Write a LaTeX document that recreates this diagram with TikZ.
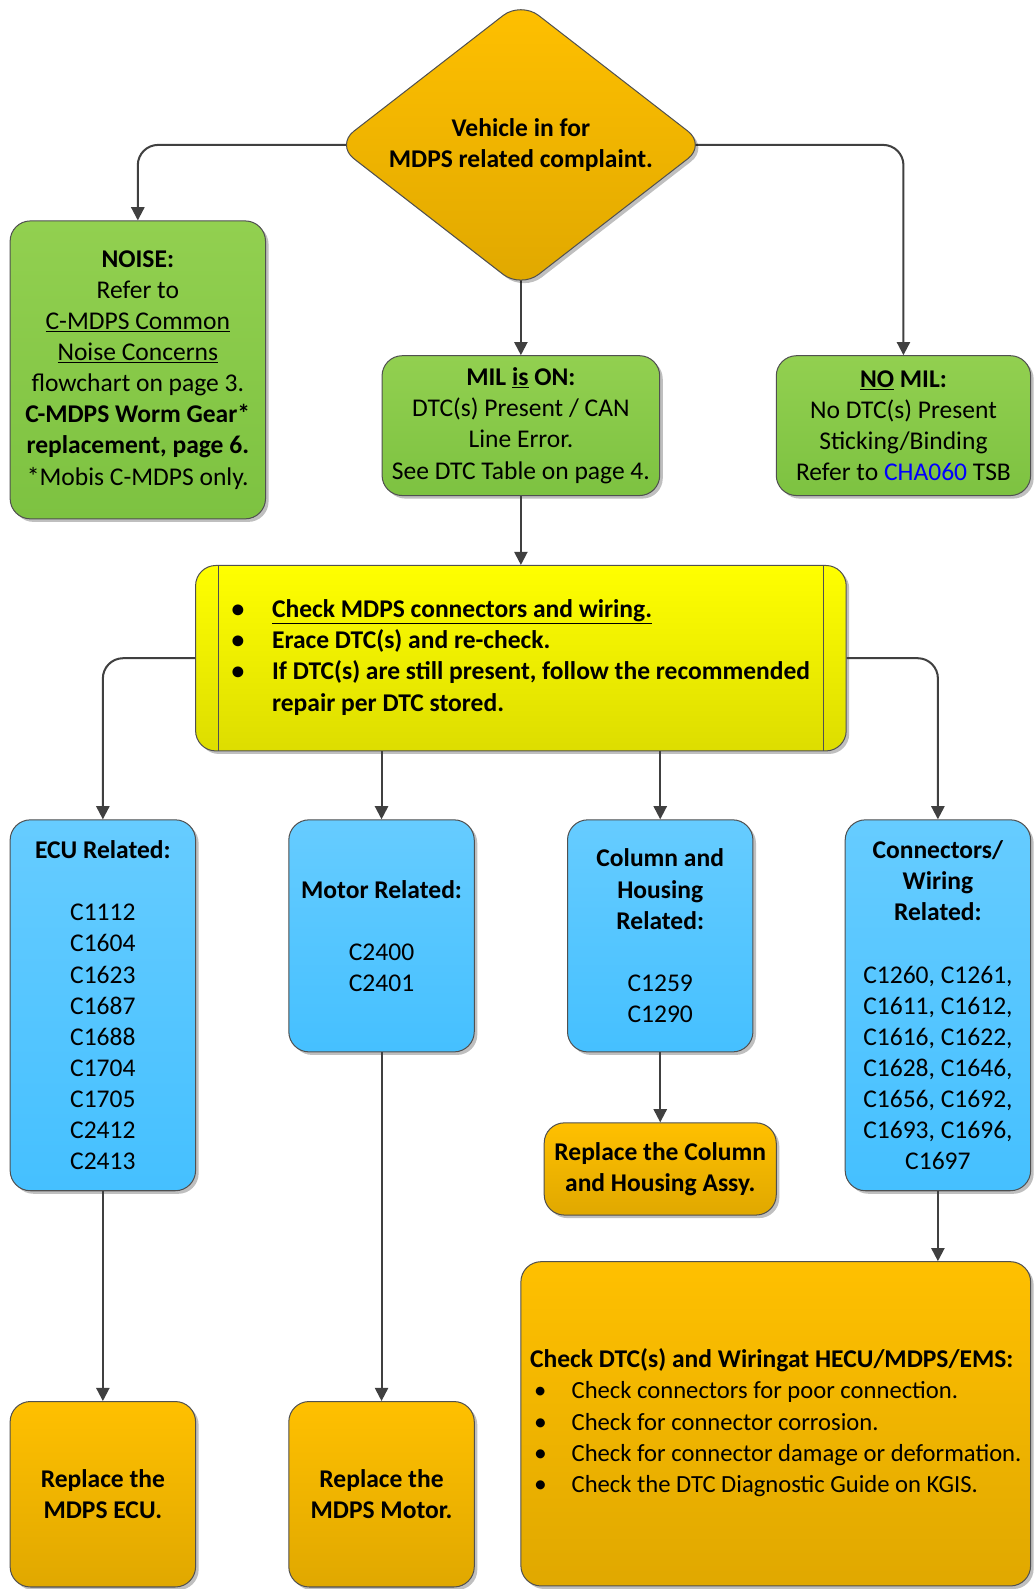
\documentclass[tikz,border=0pt]{standalone}
\usepackage{fontspec}
\setmainfont{Carlito}
\usepackage{xcolor}
\usepackage{tikz}
\usetikzlibrary{positioning,shapes.geometric,arrows.meta,shadows,backgrounds}

\definecolor{linegray}{HTML}{404040}
\definecolor{edgegray}{HTML}{505050}
\definecolor{orangetop}{HTML}{FFC000}
\definecolor{orangebot}{HTML}{E0A800}
\definecolor{greentop}{HTML}{92D050}
\definecolor{greenbot}{HTML}{7DC241}
\definecolor{bluetop}{HTML}{66CCFF}
\definecolor{bluebot}{HTML}{45C0FF}
\definecolor{yellowtop}{HTML}{FFFF00}
\definecolor{yellowbot}{HTML}{DDDD00}
\definecolor{linkblue}{HTML}{0000FF}

\begin{document}
\begin{tikzpicture}[%
    x=1pt, y=-1pt,
    ->,
    >={Triangle[width=13pt,length=13pt]},
    line width=2pt,
    draw=linegray,
    rounded corners=20pt,
    every node/.style={font=\fontsize{25.2}{30.7}\selectfont},
    link/.style={->, line width=2pt, draw=linegray, rounded corners=20pt},
    basebox/.style={%
      rectangle,
      rounded corners=20pt,
      draw=edgegray,
      line width=1pt,
      inner sep=0pt,
      align=center,
      drop shadow={shadow xshift=3pt,shadow yshift=-3pt,opacity=0.25,fill=black}
    },
    greenbox/.style={basebox, top color=greentop, bottom color=greenbot},
    bluebox/.style={basebox, top color=bluetop, bottom color=bluebot,
      minimum width=183pt},
    orangebox/.style={basebox, top color=orangetop, bottom color=orangebot},
    yellowbox/.style={basebox, top color=yellowtop, bottom color=yellowbot}
  ]
    \useasboundingbox (0,0) rectangle (1020,1568);

    % start
    \node[basebox, shape=diamond, aspect=1.29, rounded corners=22pt,
          minimum width=365pt, minimum height=283pt,
          top color=orangetop, bottom color=orangebot] (dia) at (514,143)
          {\textbf{Vehicle in for}\\\textbf{MDPS related complaint.}};

    % first level
    \node[greenbox, minimum width=252pt, minimum height=294pt] (noise) at (136,365)
          {\textbf{NOISE:}\\Refer to\\\underline{C-MDPS Common}\\\underline{Noise Concerns}\\
           flowchart on page 3.\\\textbf{C-MDPS Worm Gear*}\\\textbf{replacement, page 6.}\\
           *Mobis C-MDPS only.};
    \node[greenbox, minimum width=274pt, minimum height=138pt] (mil) at (514,420)
          {\textbf{MIL \underline{is} ON:}\\DTC(s) Present / CAN\\Line Error.\\See DTC Table on page 4.};
    \node[greenbox, minimum width=251pt, minimum height=138pt] (nomil) at (891.5,420)
          {\textbf{\underline{NO} MIL:}\\No DTC(s) Present\\Sticking/Binding\\
           Refer to \textcolor{linkblue}{CHA060} TSB};

    % checks
    \node[yellowbox, minimum width=642pt, minimum height=183pt] (chk) [below=68pt of mil]
          {\bfseries\begin{tabular}{@{}p{40pt}@{}l@{}}
             \textbullet & \underline{Check MDPS connectors and wiring.}\\
             \textbullet & Erace DTC(s) and re-check.\\
             \textbullet & If DTC(s) are still present, follow the recommended\\
                         & repair per DTC stored.
           \end{tabular}};
    \draw[-, rounded corners=0pt, line width=1pt, edgegray]
          ([xshift=23pt]chk.north west) -- ([xshift=23pt]chk.south west);
    \draw[-, rounded corners=0pt, line width=1pt, edgegray]
          ([xshift=-23pt]chk.north east) -- ([xshift=-23pt]chk.south east);

    % DTC groups
    \node[bluebox, minimum height=366pt] (ecu) at (101.5,992)
          {\textbf{ECU Related:}\\[30.7pt]C1112\\C1604\\C1623\\C1687\\C1688\\C1704\\C1705\\C2412\\C2413};
    \node[bluebox, minimum height=229pt] (mot) at (376.5,923.5)
          {\textbf{Motor Related:}\\[30.7pt]C2400\\C2401};
    \node[bluebox, minimum height=229pt] (col) at (651.5,923.5)
          {\textbf{Column and}\\\textbf{Housing}\\\textbf{Related:}\\[30.7pt]C1259\\C1290};
    \node[bluebox, minimum height=366pt] (conn) at (925.5,992)
          {\textbf{Connectors/}\\\textbf{Wiring}\\\textbf{Related:}\\[30.7pt]
           C1260, C1261,\\C1611, C1612,\\C1616, C1622,\\C1628, C1646,\\C1656, C1692,\\
           C1693, C1696,\\C1697};

    % repairs
    \node[orangebox, minimum width=183pt, minimum height=183pt] (repecu) [below=207pt of ecu]
          {\textbf{Replace the}\\\textbf{MDPS ECU.}};
    \node[orangebox, minimum width=183pt, minimum height=183pt] (repmot) [below=344pt of mot]
          {\textbf{Replace the}\\\textbf{MDPS Motor.}};
    \node[orangebox, minimum width=229pt, minimum height=91pt] (repcol) [below=69pt of col]
          {\textbf{Replace the Column}\\\textbf{and Housing Assy.}};
    \node[orangebox, minimum width=503pt, minimum height=320pt] (dtc) at (765.5,1405)
          {\begin{tabular}{@{}p{41pt}@{}l@{}}
             \multicolumn{2}{@{}l@{}}{\textbf{Check DTC(s) and Wiringat HECU/MDPS/EMS:}}\\
             \fontsize{24.3}{30.7}\selectfont
             \hspace{4pt}\textbullet & \fontsize{24.3}{30.7}\selectfont Check connectors for poor connection.\\
             \hspace{4pt}\textbullet & \fontsize{24.3}{30.7}\selectfont Check for connector corrosion.\\
             \hspace{4pt}\textbullet & \fontsize{24.3}{30.7}\selectfont Check for connector damage or deformation.\\
             \hspace{4pt}\textbullet & \fontsize{24.3}{30.7}\selectfont Check the DTC Diagnostic Guide on KGIS.
           \end{tabular}};

    % connectors
    \begin{scope}[on background layer]
      \draw[link] (dia.center) -| (noise.north);
      \draw[link] (dia.center) -| (nomil.north);
      \draw[link] (dia.center) -- (mil.north);
    \end{scope}
    \draw[link] (mil.south) -- (chk.north);
    \draw[link] (chk.west) -| (ecu.north);
    \draw[link] (chk.east) -| (conn.north);
    \draw[link] (chk.south -| mot.north) -- (mot.north);
    \draw[link] (chk.south -| col.north) -- (col.north);
    \draw[link] (ecu.south) -- (repecu.north);
    \draw[link] (mot.south) -- (repmot.north);
    \draw[link] (col.south) -- (repcol.north);
    \draw[link] (conn.south) -- (conn.south |- dtc.north);
\end{tikzpicture}
\end{document}
